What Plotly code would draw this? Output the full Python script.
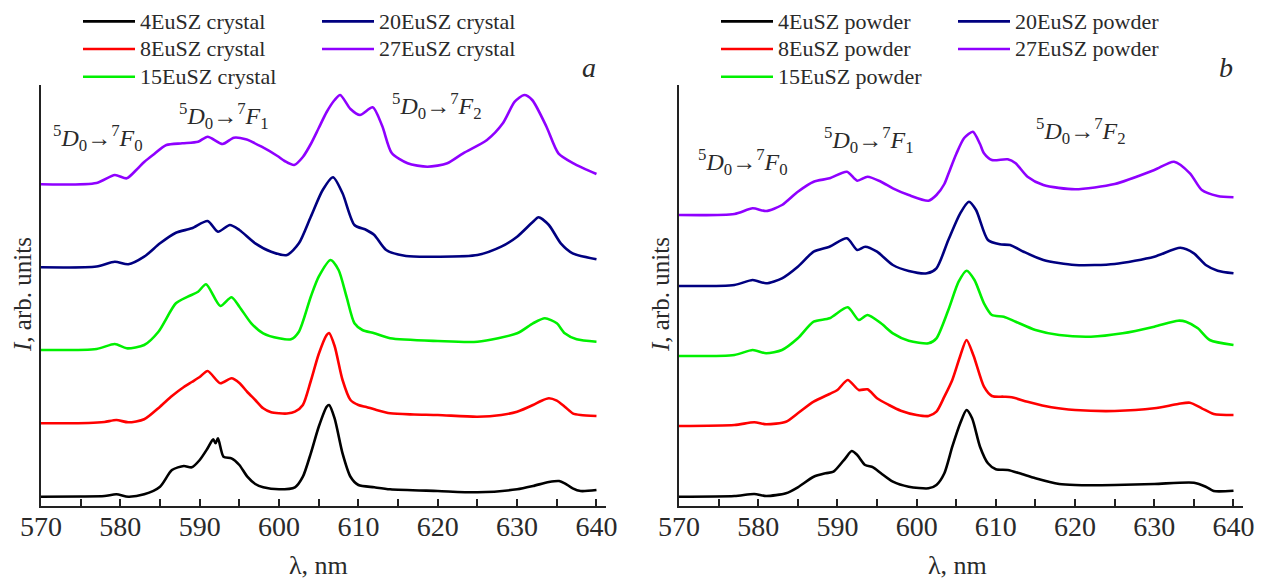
import plotly.graph_objects as go

# ---------------- data ----------------
series_names_crystal = ["4EuSZ crystal", "8EuSZ crystal", "15EuSZ crystal", "20EuSZ crystal", "27EuSZ crystal"]
series_names_powder = ["4EuSZ powder", "8EuSZ powder", "15EuSZ powder", "20EuSZ powder", "27EuSZ powder"]
colors = ["#000000", "#ff0000", "#00f000", "#000080", "#8f00ff"]

wl_c4 = [570, 575, 578, 579.5, 581, 583, 585, 586.5, 588, 589, 590, 591, 591.7, 592, 592.3, 593, 594, 595, 596, 597, 598, 600, 602, 603, 604, 605, 606, 606.3, 607, 608, 609, 610, 612, 614, 620, 625, 630, 632, 634, 635.3, 636, 637, 638, 640]
I_c4 = [9.3, 9.5, 10, 11.7, 9.3, 11.7, 19.3, 36, 40, 38.7, 46, 57.7, 66.7, 62.7, 67.7, 49.3, 47.7, 41, 29.3, 22, 18.7, 16.7, 18.7, 29.3, 52.7, 79.3, 99.3, 101, 87.7, 52.7, 29.3, 21, 18.7, 16.7, 15, 13.7, 16.7, 20, 24, 25, 22.7, 17.7, 15, 16]

wl_c8 = [570, 576, 578, 579.5, 581, 583, 585, 586.5, 588, 589, 590, 591, 592.6, 594, 595, 596, 597, 598, 599, 600, 601, 602, 603, 604, 605, 606, 606.3, 607, 608, 609, 610, 611, 612, 614, 617, 620, 625, 628, 630, 632, 633, 634, 635, 636, 637, 638, 640]
I_c8 = [82.7, 83, 84, 86, 83.7, 86.7, 99.3, 110, 119, 124, 129, 135, 122.7, 127.7, 123, 114, 106, 97.7, 93.7, 92.7, 92.5, 94.3, 101, 125, 152, 171, 173, 160, 126, 106, 101, 99, 96.7, 92.7, 91.5, 91, 89.3, 91, 94.3, 101, 105, 107.7, 105.3, 99.3, 92.7, 91, 90]

wl_c15 = [570, 577, 579.3, 580.8, 583, 584.8, 587, 588.5, 589.8, 590.8, 592.6, 594, 595, 596.5, 598, 600, 601.5, 602.5, 604, 605, 606.5, 607.5, 608.5, 609.5, 610.5, 612, 614, 620, 625, 630, 632, 633.5, 635, 636, 637.5, 640]
I_c15 = [156, 157, 162, 157.7, 161, 174.3, 202.7, 209.3, 214.3, 221.7, 200, 208.7, 199.3, 182.7, 172.7, 167.7, 166.7, 174.3, 209.3, 229.3, 246, 236, 209.3, 182.7, 176, 172.7, 167.7, 165, 164.3, 172.7, 182.7, 187.7, 182.7, 172.7, 166.7, 164.3]

wl_c20 = [570, 577, 579.3, 581, 583, 585, 587, 589, 591, 592.3, 593.8, 595, 597, 599, 601, 602.5, 604, 605.5, 606.8, 608, 609.5, 611, 612, 613.5, 616, 620, 625, 628, 630, 632, 632.7, 634, 635.5, 637, 640]
I_c20 = [238.7, 239.5, 244.3, 241.7, 249.3, 262.7, 273.3, 277.7, 285, 274.3, 281, 276, 262.7, 254.3, 251, 262.7, 289.3, 316, 328.7, 312.7, 281, 276, 271, 256, 250, 249.3, 251, 259.3, 269.3, 284.3, 288.7, 281, 262.7, 252.7, 246.7]

wl_c27 = [570, 577, 579.3, 580.8, 582, 583, 584.1, 585.8, 587.8, 589.8, 591, 592.9, 594.3, 595.8, 597.8, 599.8, 600.7, 601.9, 603, 604, 605, 606, 607, 607.7, 609, 610.2, 611.8, 613, 614.2, 616.2, 618.7, 621.2, 623.2, 626.2, 628.2, 629.7, 630.9, 631.9, 633.7, 635.2, 637.1, 640]
I_c27 = [321.7, 323, 331, 327.7, 336, 344, 351, 361, 362.7, 364.3, 369.3, 362, 368.3, 366.7, 359.3, 350, 345, 341, 349, 362, 378, 394, 406, 411, 397, 391, 398.7, 380, 353, 342.7, 339.3, 342.7, 352.7, 366, 382.7, 404.3, 411, 406, 379.3, 352.7, 342.7, 332]

wl_p4 = [570, 577, 579.5, 581, 583.5, 585, 587, 588.5, 589.5, 591, 591.8, 592.5, 593.5, 594.5, 595.5, 597, 599, 601.5, 602.5, 603.5, 604.5, 605.5, 606.3, 607, 608, 609, 610, 611.5, 613, 615, 618, 620, 625, 630, 635, 636.5, 637.5, 640]
I_p4 = [9.3, 10, 12, 10, 12.7, 18.7, 29.3, 32.7, 34.3, 47.7, 55, 51, 41, 38.7, 32.7, 24.3, 19.3, 17.7, 21, 32.7, 59.3, 82.7, 96, 87.7, 59.3, 42.7, 36.7, 36, 32.7, 27.7, 22, 21, 21, 22, 23.3, 19.3, 15, 15.3]

wl_p8 = [570, 577, 579.5, 581, 583.5, 585, 587, 589, 590, 591.3, 592.7, 593.8, 595, 596.5, 598, 600, 601.5, 602.5, 603.5, 604.5, 605.5, 606.3, 607.2, 608.5, 609.5, 611, 612, 614, 617, 620, 625, 630, 633, 634.5, 636, 637.5, 640]
I_p8 = [80, 81, 83.7, 81.7, 84.3, 92.7, 104.3, 112, 116, 126, 116, 116.7, 107.7, 101, 95.3, 91, 90, 94.3, 109.3, 126, 150, 166, 150, 119.3, 110, 109.3, 108.7, 104.3, 98.7, 96, 95, 97.7, 102, 103.3, 97.7, 92, 91]

wl_p15 = [570, 577, 579.3, 581, 583, 585, 587, 589, 591.3, 592.7, 593.8, 595.5, 597, 599, 601.5, 602.5, 604, 605.3, 606.3, 607.3, 608.5, 609.5, 611, 612.5, 615, 618, 622, 626, 630, 633, 634, 635.5, 637, 640]
I_p15 = [150, 151, 156, 152.7, 156, 167.7, 184.3, 187.7, 198.7, 186, 191, 182.7, 172.7, 165.3, 162.7, 167.7, 196, 224.3, 235.3, 226, 202.7, 191, 189.3, 184.3, 176, 171, 169.3, 172.7, 179.3, 185.3, 184.3, 177.7, 166, 161]

wl_p20 = [570, 577, 579.3, 581, 583, 585, 587, 589, 591.2, 592.5, 593.5, 595, 597, 599, 601.3, 602.5, 604, 605.5, 606.6, 607.5, 609, 610.5, 611.8, 613.5, 616, 620, 625, 630, 633.3, 635, 636.5, 638, 640]
I_p20 = [220, 221, 226, 222.7, 227.7, 239.3, 254.3, 259.3, 267.7, 256, 259.3, 254.3, 241, 235, 232.7, 237.7, 266, 292.7, 304.3, 296, 266, 261.7, 261, 254.3, 246, 241, 242, 249.3, 258.3, 252.7, 241, 235.3, 232.7]

wl_p27 = [570, 577, 579.3, 581, 583, 585, 587, 589, 591.2, 592.5, 593.8, 595.5, 597, 599, 601.5, 602.5, 603.5, 604, 605, 606, 607.1, 608, 608.5, 609.5, 611.5, 612.5, 614, 616, 620, 625, 630, 632.5, 634.5, 636, 638, 640]
I_p27 = [291, 292, 297.7, 295, 301, 314.3, 324.3, 327.7, 334.3, 325.3, 329.3, 324.3, 317.7, 311, 305.3, 311, 322, 332, 352, 368, 374.3, 362, 352.7, 346, 346.7, 342.7, 329.3, 321, 316.7, 322, 336, 344.3, 332.7, 316, 310, 308.7]

x_ticks = [570, 580, 590, 600, 610, 620, 630, 640]

crystal = [(wl_c4, I_c4), (wl_c8, I_c8), (wl_c15, I_c15), (wl_c20, I_c20), (wl_c27, I_c27)]
powder = [(wl_p4, I_p4), (wl_p8, I_p8), (wl_p15, I_p15), (wl_p20, I_p20), (wl_p27, I_p27)]

# ---------------- figure ----------------
OFF = 8                      # page body margin of the browser
W, H = 1263 - OFF, 579 - OFF
FONT = "Liberation Serif"
TXT = "#2a2a2a"

def px(x):                   # screen x (reference pixels) -> paper fraction
    return (x - OFF) / W

def py(y):                   # screen y (reference pixels) -> paper fraction
    return 1 - (y - OFF) / H

def leg_name(s):
    return f"<span style='font-size:22px'>{s}</span>"

fig = go.Figure()

legend_of = ["legend", "legend", "legend", "legend2", "legend2"]
for i, (wl, inten) in enumerate(crystal):
    fig.add_trace(go.Scatter(x=wl, y=inten, mode="lines", name=leg_name(series_names_crystal[i]),
                             line=dict(color=colors[i], width=2.6, shape="spline", smoothing=0.7),
                             xaxis="x", yaxis="y", legend=legend_of[i]))
legend_of_p = ["legend3", "legend3", "legend3", "legend4", "legend4"]
for i, (wl, inten) in enumerate(powder):
    fig.add_trace(go.Scatter(x=wl, y=inten, mode="lines", name=leg_name(series_names_powder[i]),
                             line=dict(color=colors[i], width=2.6, shape="spline", smoothing=0.7),
                             xaxis="x2", yaxis="y2", legend=legend_of_p[i]))

ydom = [py(506), py(85)]
xdom1 = [px(41), px(606)]
xdom2 = [px(679), px(1243)]

def xaxis_cfg(dom, anchor):
    return dict(domain=dom, anchor=anchor, range=[570, 641.2], showline=True, linecolor="#222",
                linewidth=2, ticks="inside", ticklen=7, tickwidth=1.5, tickcolor="#222",
                tickvals=x_ticks, showgrid=False, zeroline=False, automargin=False,
                ticklabelstandoff=-6,
                tickfont=dict(family=FONT, size=28, color=TXT),
                minor=dict(ticks="inside", ticklen=7, tickwidth=1.5, tickcolor="#222", dtick=5,
                           tick0=570, showgrid=False))

def yaxis_cfg(anchor):
    return dict(domain=ydom, anchor=anchor, range=[0, 421], showline=True, linecolor="#222",
                linewidth=2, ticks="", showticklabels=False, showgrid=False, zeroline=False,
                automargin=False)

leg_common = dict(font=dict(family=FONT, size=19, color=TXT), bgcolor="rgba(0,0,0,0)",
                  borderwidth=0, xanchor="left", yanchor="top", itemwidth=52,
                  tracegroupgap=0, orientation="v")

LEG_TOP = 2.5
fig.update_layout(
    width=W, height=H, margin=dict(l=0, r=0, t=0, b=0, autoexpand=False),
    paper_bgcolor="white", plot_bgcolor="white", showlegend=True,
    xaxis=xaxis_cfg(xdom1, "y"), yaxis=yaxis_cfg("x"),
    xaxis2=xaxis_cfg(xdom2, "y2"), yaxis2=yaxis_cfg("x2"),
    legend=dict(x=px(78), y=py(LEG_TOP), **leg_common),
    legend2=dict(x=px(317), y=py(LEG_TOP), **leg_common),
    legend3=dict(x=px(716), y=py(LEG_TOP), **leg_common),
    legend4=dict(x=px(953), y=py(LEG_TOP), **leg_common),
)

def trans(k):
    return f"<sup>5</sup><i>D</i><sub>0</sub>\u2192<sup>7</sup><i>F</i><sub>{k}</sub>"

ann = []
# transition labels (x centre, y centre in reference pixels)
for (cx, cy, k) in [(98, 138, 0), (224, 116, 1), (437, 106, 2),
                    (743, 162, 0), (869, 140, 1), (1081, 131, 2)]:
    ann.append(dict(text=trans(k), x=px(cx), y=py(cy), xref="paper", yref="paper",
                    xanchor="center", yanchor="middle", showarrow=False,
                    font=dict(family=FONT, size=24, color=TXT)))
# panel letters
for (cx, cy, t) in [(589, 67, "a"), (1226, 67, "b")]:
    ann.append(dict(text=f"<i>{t}</i>", x=px(cx), y=py(cy), xref="paper", yref="paper",
                    xanchor="center", yanchor="middle", showarrow=False,
                    font=dict(family=FONT, size=28, color=TXT)))
# axis titles
for cx in [318, 957]:
    ann.append(dict(text="\u03bb, nm", x=px(cx), y=py(565), xref="paper", yref="paper",
                    xanchor="center", yanchor="middle", showarrow=False,
                    font=dict(family=FONT, size=26, color=TXT)))
for cx in [22, 660]:
    ann.append(dict(text="<i>I</i>, arb. units", x=px(cx), y=py(295), xref="paper", yref="paper",
                    xanchor="center", yanchor="middle", showarrow=False, textangle=-90,
                    font=dict(family=FONT, size=25, color=TXT)))
fig.update_layout(annotations=ann)

fig.write_html("out.html")
